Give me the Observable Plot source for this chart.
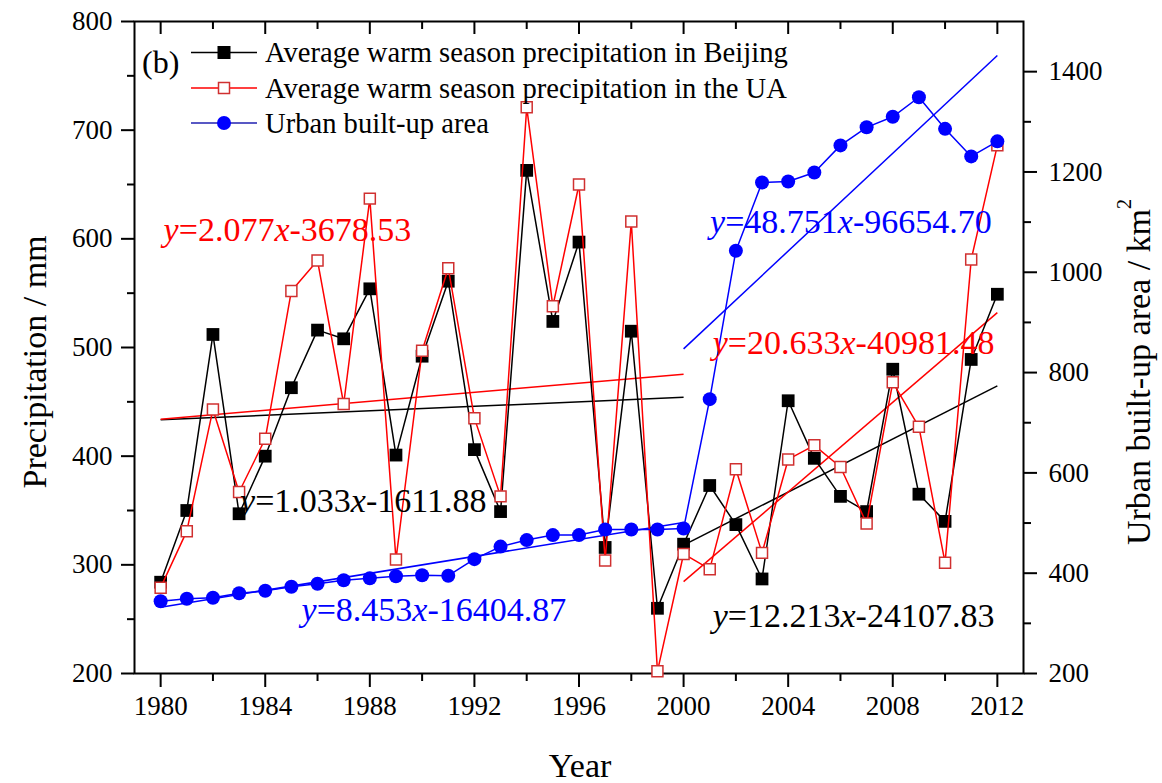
<!DOCTYPE html>
<html><head><meta charset="utf-8">
<script src="https://cdn.jsdelivr.net/npm/d3@7"></script>
<script src="https://cdn.jsdelivr.net/npm/@observablehq/plot@0.6"></script>
<style>body{margin:0;background:#fff;} svg{display:block;}</style>
</head><body><div id="chart"></div>
<script>
// ---- data ----
const years = [1980,1981,1982,1983,1984,1985,1986,1987,1988,1989,1990,1991,1992,1993,1994,1995,1996,1997,1998,1999,2000,2001,2002,2003,2004,2005,2006,2007,2008,2009,2010,2011,2012];
const beijing = [284,350,512,347,400,463,516,508,554,401,492,561,406,349,663,524,597,316,515,260,319,373,337,287,451,398,363,349,480,365,340,489,549];
const ua = [279,331,443,367,416,552,580,448,637,305,497,573,435,363,721,538,650,304,616,202,310,296,388,311,397,410,390,338,468,427,302,581,686];
const area = [344,349,351,360,365,373,379,386,390,394,396,395,428,453,466,476,476,487,487,487,489,747,1043,1179,1181,1199,1253,1289,1310,1349,1286,1231,1261];

const seriesNames = ["Average warm season precipitation in Beijing","Average warm season precipitation in the UA","Urban built-up area"];

const fitSeries = ["bj","ua","area","bj","ua","area"];
const fitSlope = [1.033, 2.077, 8.453, 12.213, 20.633, 48.751];
const fitIntercept = [-1611.88, -3678.53, -16404.87, -24107.83, -40981.48, -96654.70];
const fitFrom = [1980,1980,1980,2000,2000,2000];
const fitTo = [2000,2000,2000,2012,2012,2012];
const fitLabels = ["y=1.033x-1611.88","y=2.077x-3678.53","y=8.453x-16404.87","y=12.213x-24107.83","y=20.633x-40981.48","y=48.751x-96654.70"];

const xMajor = [1980,1984,1988,1992,1996,2000,2004,2008,2012];
const xMinor = [1982,1986,1990,1994,1998,2002,2006,2010];
const yMajor = [200,300,400,500,600,700,800];
const yMinor = [250,350,450,550,650,750];
const rMajor = [200,400,600,800,1000,1200,1400];
const rMinor = [300,500,700,900,1100,1300];

// ---- helpers ----
const leftDomain = [200, 800];
const rightDomain = [200, 1500];
const toLeft = v => leftDomain[0] + (v - rightDomain[0]) * (leftDomain[1]-leftDomain[0]) / (rightDomain[1]-rightDomain[0]);
const fromLeft = v => rightDomain[0] + (v - leftDomain[0]) * (rightDomain[1]-rightDomain[0]) / (leftDomain[1]-leftDomain[0]);

const colors = {bj: "#000000", ua: "#ff0000", area: "#0000ff"};
const table = years.map((y,i) => ({year: y, bj: beijing[i], ua: ua[i], area: toLeft(area[i])}));
const fits = fitSeries.map((s,i) => {
  const f = x => fitSlope[i]*x + fitIntercept[i];
  const conv = s === "area" ? toLeft : (v => v);
  return {s, x1: fitFrom[i], x2: fitTo[i], y1: conv(f(fitFrom[i])), y2: conv(f(fitTo[i])), label: fitLabels[i]};
});

const W = 1162, H = 783, mL = 134, mR = 139, mT = 21, mB = 110;
const innerH = H - mT - mB;
const FONT = "'Liberation Serif','Times New Roman',serif";

const annot = [
  {label: fitLabels[0], x: 1987.75, y: 359, c: colors.bj},
  {label: fitLabels[1], x: 1984.85, y: 608, c: colors.ua},
  {label: fitLabels[2], x: 1990.45, y: 258, c: colors.area},
  {label: fitLabels[3], x: 2006.5, y: 252.5, c: colors.bj},
  {label: fitLabels[4], x: 2006.5, y: 504.5, c: colors.ua},
  {label: fitLabels[5], x: 2006.4, y: 615, c: colors.area}
];

const chart = Plot.plot({
  width: W, height: H,
  marginLeft: mL, marginRight: mR, marginTop: mT, marginBottom: mB,
  style: {fontFamily: FONT, fontSize: "27px", color: "#000", background: "#fff"},
  x: {domain: [1979, 2013]},
  y: {domain: leftDomain},
  marks: [
    // axes
    Plot.axisX({ticks: xMajor, tickSize: 14, tickPadding: 8, tickFormat: d => String(d), label: null, strokeWidth: 2, fontSize: 27, fontFamily: FONT}),
    Plot.axisX({ticks: xMinor, tickSize: 8, tickFormat: () => "", label: null, strokeWidth: 2}),
    Plot.ruleX(xMajor, {x: d => d, insetBottom: innerH - 13, stroke: "#000", strokeWidth: 2}),
    Plot.ruleX(xMinor, {x: d => d, insetBottom: innerH - 8, stroke: "#000", strokeWidth: 2}),
    Plot.axisY({ticks: yMajor, tickSize: 13, tickPadding: 9, tickFormat: d => String(d), label: null, strokeWidth: 2, fontSize: 27, fontFamily: FONT}),
    Plot.axisY({ticks: yMinor, tickSize: 7, tickFormat: () => "", label: null, strokeWidth: 2}),
    Plot.axisY({anchor: "right", ticks: rMajor.map(toLeft), tickSize: 13, tickPadding: 12, tickFormat: d => String(Math.round(fromLeft(d))), label: null, strokeWidth: 2, fontSize: 27, fontFamily: FONT}),
    Plot.axisY({anchor: "right", ticks: rMinor.map(toLeft), tickSize: 7, tickFormat: () => "", label: null, strokeWidth: 2}),
    Plot.frame({stroke: "#000", strokeWidth: 2}),
    // fit lines
    Plot.link(fits, {x1: "x1", y1: "y1", x2: "x2", y2: "y2", stroke: d => colors[d.s], strokeWidth: 1.5}),
    // Beijing
    Plot.line(table, {x: "year", y: "bj", stroke: colors.bj, strokeWidth: 1.5}),
    Plot.dot(table, {x: "year", y: "bj", symbol: "square", r: 7.2, fill: "#000", stroke: "none"}),
    // UA
    Plot.line(table, {x: "year", y: "ua", stroke: colors.ua, strokeWidth: 1.5}),
    Plot.dot(table, {x: "year", y: "ua", symbol: "square", r: 6.2, fill: "#fff", stroke: "#d03030", strokeWidth: 1.5}),
    // area
    Plot.line(table, {x: "year", y: "area", stroke: colors.area, strokeWidth: 1.5}),
    Plot.dot(table, {x: "year", y: "area", r: 7, fill: colors.area, stroke: "none"}),
    // equations
    Plot.text(annot, {x: "x", y: "y", text: "label", fill: d => d.c, fontSize: 34, textAnchor: "middle", lineAnchor: "middle", fontFamily: FONT})
  ]
});

document.getElementById("chart").appendChild(chart);
const svg = d3.select(chart);

// italic x and y in equations
svg.selectAll("text").each(function() {
  const t = d3.select(this);
  const s = this.textContent;
  if (/^y=/.test(s) && this.childElementCount === 0) {
    t.text(null);
    s.split(/([xy])/).filter(p => p !== "").forEach(p => {
      const ts = t.append("tspan").text(p);
      if (p === "x" || p === "y") ts.attr("font-style", "italic");
    });
  }
});

// legend
const lg = svg.append("g").attr("font-family", FONT).attr("font-size", 28.6).attr("text-anchor", "start");
lg.append("text").attr("x", 142).attr("y", 62).attr("dominant-baseline", "central").attr("font-size", 32).attr("text-anchor", "start").text("(b)");
const rows = [52.5, 88, 123];
seriesNames.forEach((name, i) => {
  const key = ["bj","ua","area"][i];
  const c = colors[key];
  const y = rows[i];
  lg.append("line").attr("x1", 191).attr("x2", 257).attr("y1", y).attr("y2", y).attr("stroke", key === "area" ? "#2020b0" : c).attr("stroke-width", 1.5);
  if (key === "bj") lg.append("rect").attr("x", 224-6.5).attr("y", y-6.5).attr("width", 13).attr("height", 13).attr("fill", "#000");
  if (key === "ua") lg.append("rect").attr("x", 224-5.5).attr("y", y-5.5).attr("width", 11).attr("height", 11).attr("fill", "#fff").attr("stroke", "#d03030").attr("stroke-width", 1.5);
  if (key === "area") lg.append("circle").attr("cx", 224).attr("cy", y).attr("r", 7).attr("fill", c);
  lg.append("text").attr("x", 265).attr("y", y).attr("dominant-baseline", "central").attr("text-anchor", "start").attr("fill", "#000").text(name);
});

// axis titles
const at = svg.append("g").attr("font-family", FONT).attr("font-size", 34).attr("fill", "#000");
at.append("text").attr("x", 580).attr("y", 765).attr("text-anchor", "middle").attr("dominant-baseline", "central").text("Year");
at.append("text").attr("transform", "translate(34,362) rotate(-90)").attr("text-anchor", "middle").attr("dominant-baseline", "central").text("Precipitation / mm");
const rt = at.append("text").attr("transform", "translate(1138,372) rotate(-90)").attr("text-anchor", "middle").attr("dominant-baseline", "central");
rt.append("tspan").text("Urban built-up area / km");
rt.append("tspan").attr("font-size", 20).attr("dy", -14).text("2");
</script>
</body></html>
